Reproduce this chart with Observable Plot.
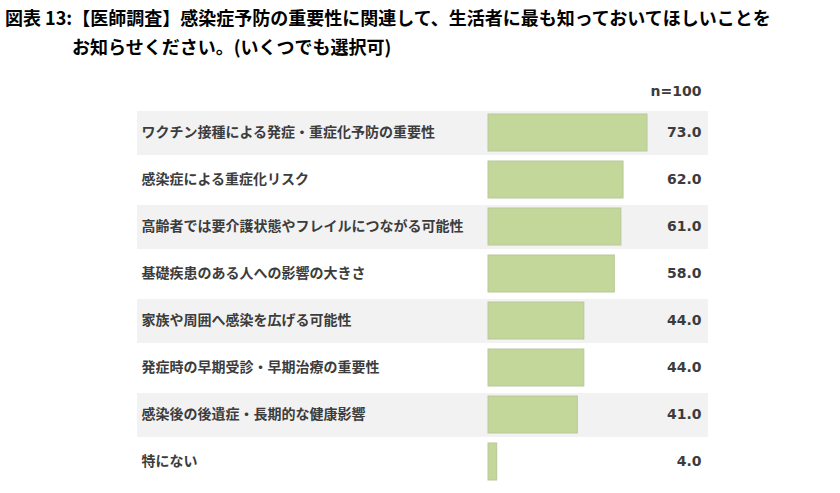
<!DOCTYPE html>
<html>
<head>
<meta charset="utf-8">
<script src="https://cdn.jsdelivr.net/npm/d3@7"></script>
<script src="https://cdn.jsdelivr.net/npm/@observablehq/plot@0.6"></script>
<style>
  html, body { margin: 0; padding: 0; background: #ffffff; }
  #title { padding-top: 3px; font-family: "Noto Sans CJK JP", sans-serif; font-weight: 700; font-size: 18px; color: #000; }
  #title .l { height: 29px; line-height: 29px; white-space: nowrap; }
  #title .l1 { padding-left: 5px; }
  #title .l2 { padding-left: 72px; }
</style>
</head>
<body>
<div id="title">
  <div class="l l1">図表 13:【医師調査】感染症予防の重要性に関連して、生活者に最も知っておいてほしいことを</div>
  <div class="l l2">お知らせください。(いくつでも選択可)</div>
</div>
<div id="chart"></div>
<script>
const categories = [
  "ワクチン接種による発症・重症化予防の重要性",
  "感染症による重症化リスク",
  "高齢者では要介護状態やフレイルにつながる可能性",
  "基礎疾患のある人への影響の大きさ",
  "家族や周囲へ感染を広げる可能性",
  "発症時の早期受診・早期治療の重要性",
  "感染後の後遺症・長期的な健康影響",
  "特にない"
];
const values = [73.0, 62.0, 61.0, 58.0, 44.0, 44.0, 41.0, 4.0];
const sampleLabel = "n=100";

const data = categories.map((c, i) => ({label: c, value: values[i], shaded: i % 2 === 0}));
const shadedRows = data.filter(d => d.shaded);

const plot = Plot.plot({
  width: 840,
  height: 432,
  marginTop: 48,
  marginBottom: 8,
  marginLeft: 137,
  marginRight: 132,
  style: {fontFamily: "'Noto Sans CJK JP', sans-serif", background: "#ffffff"},
  x: {domain: [0, 100], range: [488, 705.8], axis: null},
  y: {domain: categories, padding: 0, axis: null},
  marks: [
    Plot.cell(shadedRows, {y: "label", fill: "#f2f2f2", insetTop: 2, insetBottom: 1}),
    Plot.barX(data, {x: "value", y: "label", fill: "#c4d79b", stroke: "#b7c79a", strokeWidth: 1, insetTop: 5, insetBottom: 5}),
    Plot.text(data, {y: "label", text: "label", frameAnchor: "left", textAnchor: "start", dx: 4,
      fontSize: 14, fontWeight: 600, fill: "#3c3c3c", fontFamily: "'Noto Sans CJK JP', sans-serif"}),
    Plot.text(data, {y: "label", text: d => d.value.toFixed(1), frameAnchor: "right", textAnchor: "end", dx: -7,
      fontSize: 14, fontWeight: 700, fill: "#3c3c3c", fontFamily: "'DejaVu Sans', sans-serif"}),
    Plot.text([sampleLabel], {text: d => d, frameAnchor: "top-right", textAnchor: "end", dx: -7, dy: -23,
      fontSize: 14, fontWeight: 700, fill: "#3c3c3c", fontFamily: "'DejaVu Sans', sans-serif"})
  ]
});
document.getElementById("chart").appendChild(plot);
</script>
</body>
</html>
